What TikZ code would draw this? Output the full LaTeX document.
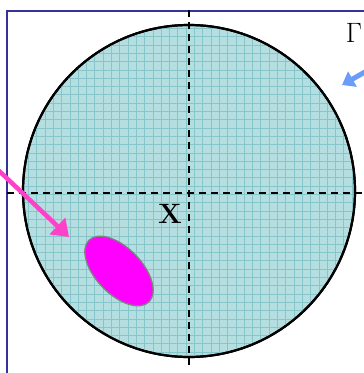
\documentclass[tikz,border=0pt]{standalone}
\usepackage{tikz}
\usetikzlibrary{arrows.meta, shapes.geometric, calc}
\definecolor{frameblue}{HTML}{333399}
\definecolor{diskfill}{HTML}{B4DEE0}
\definecolor{diskgrid}{HTML}{86C6CA}
\definecolor{spotpink}{HTML}{FF00FF}
\definecolor{arrowpink}{HTML}{FF40C8}
\definecolor{arrowblue}{HTML}{6A9CF8}

\begin{document}
\begin{tikzpicture}[
    x=1pt, y=-1pt,
    disk/.style={circle, draw=black, line width=2.2pt, fill=diskfill, minimum size=332pt, inner sep=0pt},
    spot/.style={ellipse, draw=gray, line width=1.3pt, fill=spotpink, minimum width=86pt, minimum height=46pt, inner sep=0pt, rotate=-46},
    axis/.style={black, line width=1.6pt, dash pattern=on 7pt off 5pt},
    pointer/.style={-{Triangle[length=16pt, width=22pt]}, line width=4.5pt},
    tag/.style={font=\fontsize{28}{32}\selectfont, inner sep=0pt}
]
\useasboundingbox (0,0) rectangle (364,373);

% Frame
\draw[frameblue, line width=2.6pt] (7,373) -- (7,11) -- (364,11);

% Disk
\node[disk] (disk) at (189,191) {};
\begin{scope}
    \clip (disk.center) circle (165pt);
    \foreach \k in {0,...,41} {
        \draw[diskgrid, line width=0.5pt] (20+8.3*\k,20) -- (20+8.3*\k,360);
        \draw[diskgrid, line width=0.5pt] (20,20+8.3*\k) -- (360,20+8.3*\k);
    }
\end{scope}
\draw[black, line width=2.2pt] (disk) circle (166pt);

% Axes
\coordinate (hl) at (7,193);
\coordinate (hr) at (364,193);
\coordinate (vt) at (189,10);
\coordinate (vb) at (189,366);
\draw[axis] (hl) -- (hr);
\draw[axis] (vt) -- (vb);

% Spot and labels
\node[spot] (spot) at (119,271) {};
\node[tag] (xlab) at (170,214) {\bfseries X};
\node[tag] (gamma) at (354,33) {Γ};

% Arrows
\coordinate (pinkstart) at (-4,168);
\coordinate (pinkend) at (69,237);
\coordinate (bluestart) at (372,68);
\coordinate (blueend) at (342,85);
\draw[pointer, arrowpink] (pinkstart) -- (pinkend);
\draw[-{Triangle[length=12pt, width=17pt]}, line width=5pt, arrowblue] (bluestart) -- (blueend);

\end{tikzpicture}
\end{document}
